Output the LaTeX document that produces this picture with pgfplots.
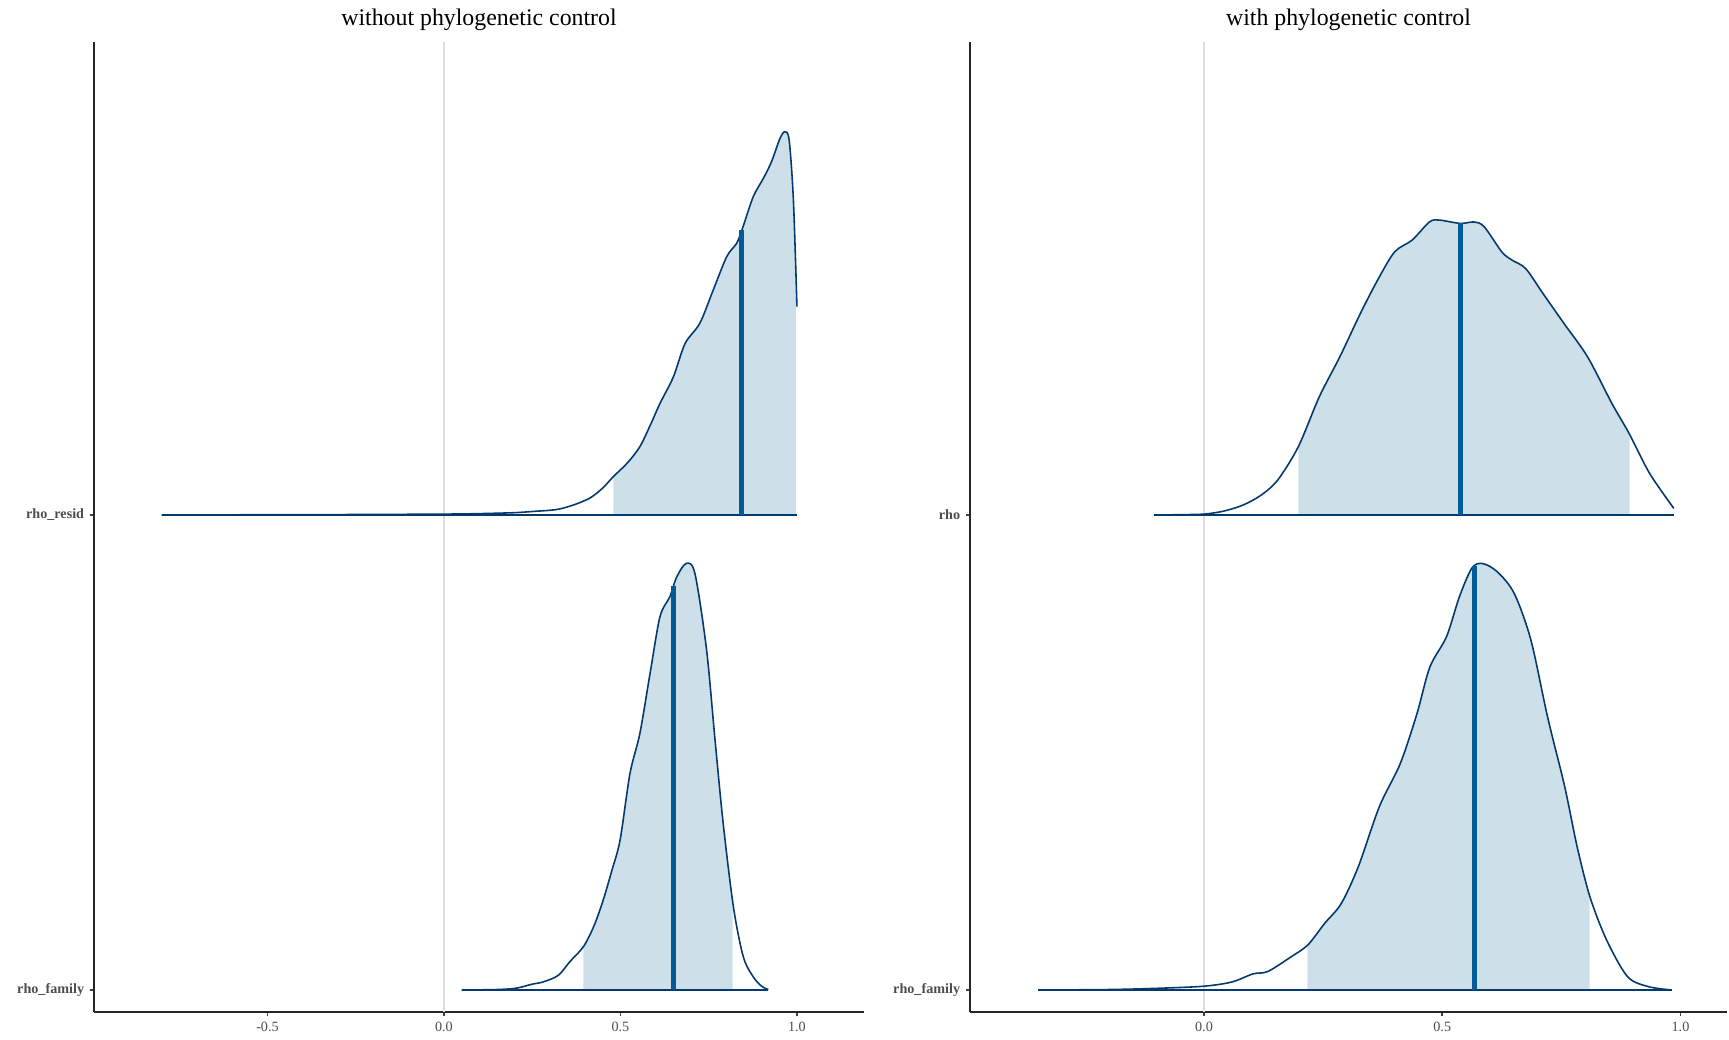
\documentclass[border=0pt]{standalone}
\usepackage{pgfplots}
\pgfplotsset{compat=1.18}
\usepackage{pgfplotstable}
\usepgfplotslibrary{fillbetween}
\usepackage{fontspec}
\setmainfont{Liberation Serif}
\definecolor{lightfill}{HTML}{CDE0EA}
\definecolor{darkline}{HTML}{03396C}
\definecolor{midline}{HTML}{005B96}
\definecolor{grey30}{HTML}{4D4D4D}
\definecolor{gridgrey}{HTML}{DEDEDE}

\pgfplotstableread{
x h
-0.80 0
-0.60 0.0005
-0.30 0.001
0.00 0.002
0.10 0.003
0.20 0.005
0.26 0.008
0.30 0.010
0.329 0.013
0.37 0.022
0.414 0.036
0.45 0.057
0.480 0.081
0.520 0.110
0.555 0.144
0.585 0.190
0.612 0.235
0.650 0.291
0.683 0.361
0.725 0.404
0.763 0.474
0.801 0.544
0.829 0.572
0.846 0.604
0.876 0.670
0.905 0.709
0.928 0.744
0.952 0.793
0.966 0.807
0.978 0.789
0.990 0.663
1.000 0.439
}\residtab

\pgfplotstableread{
x h
0.050 0
0.15 0.001
0.206 0.004
0.248 0.012
0.281 0.017
0.324 0.031
0.357 0.060
0.395 0.091
0.425 0.135
0.451 0.189
0.475 0.250
0.499 0.316
0.527 0.456
0.555 0.540
0.584 0.667
0.612 0.786
0.640 0.828
0.659 0.869
0.686 0.898
0.711 0.877
0.744 0.716
0.768 0.526
0.791 0.351
0.820 0.175
0.848 0.070
0.876 0.028
0.900 0.008
0.919 0.001
}\lfamtab

\pgfplotstableread{
x h
-0.105 0
-0.05 0.0008
0.0 0.002
0.04 0.008
0.082 0.021
0.12 0.042
0.155 0.074
0.198 0.144
0.242 0.249
0.285 0.333
0.328 0.424
0.364 0.494
0.400 0.554
0.437 0.579
0.473 0.617
0.494 0.621
0.538 0.614
0.567 0.617
0.588 0.607
0.625 0.554
0.646 0.537
0.675 0.519
0.711 0.467
0.755 0.404
0.805 0.333
0.856 0.235
0.892 0.172
0.935 0.088
0.986 0.014
}\rhotab

\pgfplotstableread{
x h
-0.348 0
-0.20 0.001
-0.100 0.0035
0.0 0.008
0.059 0.017
0.103 0.034
0.134 0.039
0.183 0.070
0.218 0.095
0.253 0.140
0.288 0.182
0.324 0.260
0.368 0.386
0.412 0.477
0.447 0.582
0.474 0.680
0.509 0.744
0.536 0.828
0.562 0.888
0.584 0.898
0.615 0.881
0.651 0.835
0.686 0.737
0.721 0.575
0.757 0.428
0.783 0.302
0.810 0.196
0.845 0.105
0.889 0.028
0.933 0.007
0.982 0.0
}\rfamtab

\pgfplotsset{
  panel/.style={
    set layers,
    scale only axis,
    height=582pt,
    ymin=0.9537, ymax=2.996,
    axis x line*=bottom, axis y line*=left,
    axis line style={-, draw=black!85, line width=1.1pt},
    ytick={1,2},
    tick align=outside,
    major tick length=2.4pt,
    tick style={draw=black!75, line width=1.1pt},
    xticklabel style={font=\fontsize{8.5}{10}\selectfont, text=grey30},
    yticklabel style={font=\bfseries\fontsize{8.5}{10}\selectfont, text=grey30},
    title style={at={(0.5,1)}, anchor=base, yshift=3.6pt, font=\fontsize{14.3}{17}\selectfont},
    clip=false,
  },
  dens/.style={darkline, line width=0.95pt, smooth, tension=0.5},
}

\begin{document}
\begin{tikzpicture}
\begin{axis}[panel, at={(0,0)}, anchor=south west, width=462pt,
  xmin=-0.9915, xmax=1.19,
  xtick={-0.5,0,0.5,1}, xticklabels={-0.5,0.0,0.5,1.0},
  yticklabels={rho\_family,rho\_resid},
  title={without phylogenetic control}]
\addplot[gridgrey, line width=0.8pt] coordinates {(0,0.9537) (0,2.996)};
% rho_resid
\addplot[dens, name path=rA] table[x=x, y expr=\thisrow{h}+2] {\residtab};
\addplot[darkline, line width=0.95pt, name path=bA] coordinates {(-0.80,2) (1.0,2)};
\addplot[lightfill] fill between[of=rA and bA, soft clip={domain=0.48:0.997}];
\addplot[midline, line width=3pt] coordinates {(0.843,2) (0.843,2.60)};
% rho_family
\addplot[dens, name path=rB] table[x=x, y expr=\thisrow{h}+1] {\lfamtab};
\addplot[darkline, line width=0.95pt, name path=bB] coordinates {(0.05,1) (0.919,1)};
\addplot[lightfill] fill between[of=rB and bB, soft clip={domain=0.395:0.818}];
\addplot[midline, line width=3pt] coordinates {(0.650,1) (0.650,1.85)};
\end{axis}

\begin{axis}[panel, at={(525.6pt,0)}, anchor=south west, width=454.2pt,
  xmin=-0.491, xmax=1.0976,
  xtick={0,0.5,1}, xticklabels={0.0,0.5,1.0},
  yticklabels={rho\_family,rho},
  title={with phylogenetic control}]
\addplot[gridgrey, line width=0.8pt] coordinates {(0,0.9537) (0,2.996)};
% rho
\addplot[dens, name path=rC] table[x=x, y expr=\thisrow{h}+2] {\rhotab};
\addplot[darkline, line width=0.95pt, name path=bC] coordinates {(-0.105,2) (0.986,2)};
\addplot[lightfill] fill between[of=rC and bC, soft clip={domain=0.198:0.893}];
\addplot[midline, line width=3pt] coordinates {(0.539,2) (0.539,2.614)};
% rho_family
\addplot[dens, name path=rD] table[x=x, y expr=\thisrow{h}+1] {\rfamtab};
\addplot[darkline, line width=0.95pt, name path=bD] coordinates {(-0.348,1) (0.982,1)};
\addplot[lightfill] fill between[of=rD and bD, soft clip={domain=0.217:0.809}];
\addplot[midline, line width=3pt] coordinates {(0.567,1) (0.567,1.893)};
\end{axis}
\pgfresetboundingbox
\path[use as bounding box] (-56.4pt,-16.2pt) rectangle (981pt,607.2pt);
\end{tikzpicture}
\end{document}
